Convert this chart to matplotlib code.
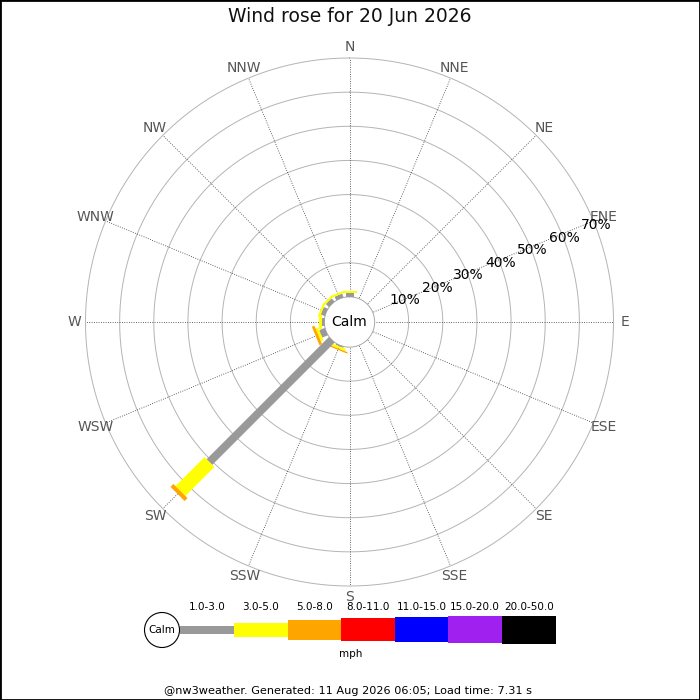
import numpy as np
import matplotlib
matplotlib.use("Agg")
import matplotlib.pyplot as plt
from matplotlib.patches import Circle

# ---------------- data ----------------
directions = ["N", "NNE", "NE", "ENE", "E", "ESE", "SE", "SSE",
              "S", "SSW", "SW", "WSW", "W", "WNW", "NW", "NNW"]
speed_bins = ["1.0-3.0", "3.0-5.0", "5.0-8.0", "8.0-11.0",
              "11.0-15.0", "15.0-20.0", "20.0-50.0"]
bin_colors = ["#999999", "#ffff00", "#ffa500", "#ff0000",
              "#0000ff", "#a020f0", "#000000"]
# percentage per direction for the bins 1.0-3.0, 3.0-5.0, 5.0-8.0
pct_1_3 = [1.1, 0, 0, 0, 0, 0, 0, 0, 0, 0.4, 50.7, 1.8, 0.6, 1.3, 1.3, 1.2]
pct_3_5 = [0.6, 0, 0, 0, 0, 0, 0, 0, 0, 0.7, 12.0, 0.8, 1.1, 0.6, 0.6, 0.6]
pct_5_8 = [0, 0, 0, 0, 0, 0, 0, 0, 0, 0.4, 1.2, 0.8, 0, 0, 0, 0]
ring_values = [10, 20, 30, 40, 50, 60, 70]
title = "Wind rose for 20 Jun 2026"
footer = "@nw3weather. Generated: 11 Aug 2026 06:05; Load time: 7.31 s"
unit = "mph"

# ---------------- layout ----------------
W = H = 700
cx, cy = 349.5, 322.0
R_out = 264.0
R_calm = 25.0
rmax = 70.0
px_per_unit = (R_out - R_calm) / rmax
rorigin = -R_calm / px_per_unit

fig = plt.figure(figsize=(7, 7), dpi=100)
fig.patch.set_facecolor("white")

bg = fig.add_axes([0, 0, 1, 1])
bg.set_xlim(0, W)
bg.set_ylim(H, 0)
bg.set_xticks([])
bg.set_yticks([])
for s in bg.spines.values():
    s.set_linewidth(2.0)
    s.set_color("black")
bg.set_zorder(0)

ax = fig.add_axes([(cx - R_out) / W, (H - cy - R_out) / H, 2 * R_out / W, 2 * R_out / H],
                  projection="polar")
ax.set_zorder(1)
ax.patch.set_visible(False)
ax.set_frame_on(False)
ax.set_theta_zero_location("N")
ax.set_theta_direction(-1)
ax.set_ylim(0, rmax)
ax.set_rorigin(rorigin)
ax.set_xticks([])
ax.set_yticks([])
ax.grid(False)
for s in ax.spines.values():
    s.set_visible(False)

tt = np.linspace(0, 2 * np.pi, 721)
# rings
for rv in ring_values:
    ax.plot(tt, np.full_like(tt, rv), color="#b4b4b4", lw=0.7, zorder=1, clip_on=False)
# calm circle
ax.plot(tt, np.full_like(tt, 0.05), color="#a8a8a8", lw=0.7, zorder=1, clip_on=False)

angles = np.deg2rad(np.arange(16) * 22.5)
# radial lines
for a in angles:
    ax.plot([a, a], [0.3, rmax], color="#333333", lw=0.6, ls=(0, (1, 1.8)), zorder=1)

# compass labels
for a, lab in zip(angles, directions):
    ax.text(a, (275 - R_calm) / px_per_unit, lab, ha="center", va="center",
            fontsize=10, color="#555555", clip_on=False)

# percentage labels
for rv in ring_values:
    ax.text(np.deg2rad(68.5), rv + 0.2, f"{rv}%", ha="center", va="center",
            fontsize=10, color="black", zorder=5)

# bars
widths_px = [8, 14, 20, 23, 25, 27, 28]
series = [pct_1_3, pct_3_5, pct_5_8]
for i, a in enumerate(angles):
    start = 0.0
    for k, ser in enumerate(series):
        v = ser[i]
        if v <= 0:
            continue
        ax.plot([a, a], [start, start + v], color=bin_colors[k],
                lw=widths_px[k] * 0.72, solid_capstyle="butt", zorder=3)
        start += v

ax.text(0.5, 0.5, "Calm", transform=ax.transAxes, ha="center", va="center",
        fontsize=10, color="black", zorder=6)

# title
bg.text(350, 17, title, ha="center", va="center", fontsize=13.5, color="#111111")

# legend
leg_left = [180, 234, 288, 341, 395, 448, 502]
leg_w = 54
leg_cy = 629.5
heights = np.array(widths_px, dtype=float)
bg.bar(leg_left, heights, width=leg_w, bottom=leg_cy - heights / 2, align="edge",
       color=bin_colors, edgecolor="none", zorder=2)
for xl, lab in zip(leg_left, speed_bins):
    bg.text(xl + leg_w / 2, 607.5, lab, ha="center", va="center", fontsize=7.5,
            color="black")
bg.add_patch(Circle((162, 630), 17.5, facecolor="white", edgecolor="black", lw=0.8, zorder=3))
bg.text(162, 630, "Calm", ha="center", va="center", fontsize=7.5, color="black", zorder=4)
bg.text(351, 654, unit, ha="center", va="center", fontsize=7.5, color="black")

# footer
bg.text(348, 691, footer, ha="center", va="center", fontsize=8.1, color="black")

fig.savefig("out.png", dpi=100, facecolor="white")
